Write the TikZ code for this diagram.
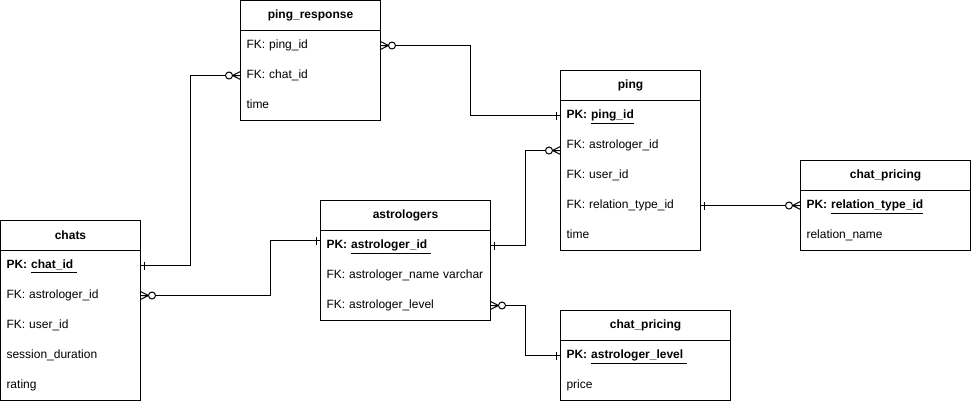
\documentclass[tikz,border=0pt]{standalone}
\usepackage{fontspec}
\setmainfont{Liberation Sans}
\usetikzlibrary{positioning}

\tikzset{
	tblhead/.style={draw, anchor=north west, minimum height=22.5pt, inner sep=0pt, outer sep=0pt,
		font=\fontsize{9}{11}\selectfont\bfseries},
	field/.style={text width=#1, minimum height=22.5pt, inner xsep=4.5pt, inner ysep=0pt, outer sep=0pt,
		align=left, text height=6.8pt, text depth=2pt},
	onemark/.pic={\draw (4,-4) -- (4,4);},
	zmanymark/.pic={
		\draw (0,-4) -- (8,0) -- (0,4) (0,0) -- (8,0);
		\draw[fill=white] (11.5,0) circle (3.5);
	}
}

\begin{document}
\begin{tikzpicture}[x=0.75pt, y=-0.75pt, line width=0.75pt, font=\fontsize{9}{11}\selectfont]
		\useasboundingbox (0,0) rectangle (971,401);
		% ping_response
		\node[tblhead, minimum width=105pt] (pr-head) at (240.5,0.5) {ping\_response};
		\node[field=96pt, below=0pt of pr-head] (pr-ping) {FK: ping\_id};
		\node[field=96pt, below=0pt of pr-ping] (pr-chat) {FK: chat\_id};
		\node[field=96pt, below=0pt of pr-chat] (pr-time) {time};
		\draw (pr-head.south west) rectangle (pr-time.south east);
		% ping
		\node[tblhead, minimum width=105pt] (ping-head) at (560.5,70.5) {ping};
		\node[field=96pt, below=0pt of ping-head] (ping-pk) {\textbf{PK: \underline{ping\_id}}};
		\node[field=96pt, below=0pt of ping-pk] (ping-astro) {FK: astrologer\_id};
		\node[field=96pt, below=0pt of ping-astro] (ping-user) {FK: user\_id};
		\node[field=96pt, below=0pt of ping-user] (ping-rel) {FK: relation\_type\_id};
		\node[field=96pt, below=0pt of ping-rel] (ping-time) {time};
		\draw (ping-head.south west) rectangle (ping-time.south east);
		% chat_pricing (relation)
		\node[tblhead, minimum width=127.5pt] (cp1-head) at (800.5,160.5) {chat\_pricing};
		\node[field=118.5pt, below=0pt of cp1-head] (cp1-pk) {\textbf{PK: \underline{relation\_type\_id}}};
		\node[field=118.5pt, below=0pt of cp1-pk] (cp1-name) {relation\_name};
		\draw (cp1-head.south west) rectangle (cp1-name.south east);
		% chats
		\node[tblhead, minimum width=105pt] (chats-head) at (0.5,220.5) {chats};
		\node[field=96pt, below=0pt of chats-head] (chats-pk) {\textbf{PK: \underline{chat\_id\ }}};
		\node[field=96pt, below=0pt of chats-pk] (chats-astro) {FK: astrologer\_id};
		\node[field=96pt, below=0pt of chats-astro] (chats-user) {FK: user\_id};
		\node[field=96pt, below=0pt of chats-user] (chats-dur) {session\_duration};
		\node[field=96pt, below=0pt of chats-dur] (chats-rate) {rating};
		\draw (chats-head.south west) rectangle (chats-rate.south east);
		% astrologers
		\node[tblhead, minimum width=127.5pt] (astro-head) at (320.5,200.5) {astrologers};
		\node[field=118.5pt, below=0pt of astro-head] (astro-pk) {\textbf{PK: \underline{astrologer\_id\ }}};
		\node[field=118.5pt, below=0pt of astro-pk] (astro-name) {FK: astrologer\_name varchar};
		\node[field=118.5pt, below=0pt of astro-name] (astro-level) {FK: astrologer\_level};
		\draw (astro-head.south west) rectangle (astro-level.south east);
		% chat_pricing (level)
		\node[tblhead, minimum width=127.5pt] (cp2-head) at (560.5,310.5) {chat\_pricing};
		\node[field=118.5pt, below=0pt of cp2-head] (cp2-pk) {\textbf{PK: \underline{astrologer\_level\ }}};
		\node[field=118.5pt, below=0pt of cp2-pk] (cp2-price) {price};
		\draw (cp2-head.south west) rectangle (cp2-price.south east);
		% links
		\draw (pr-ping.east) -- ++(90,0) |- (ping-pk.west);
		\draw (pr-chat.west) -- ++(-50,0) |- (chats-pk.east);
		\draw (chats-astro.east) -- ++(130,0) |- ([yshift=3.75pt]astro-pk.west);
		\draw (astro-pk.east) -- ++(35,0) |- ([yshift=-3.75pt]ping-astro.west);
		\draw (astro-level.east) -- ++(35,0) |- (cp2-pk.west);
		\draw (ping-rel.east) -- (cp1-pk.west);
		% ends
		\pic at (pr-ping.east) {zmanymark};
		\pic[rotate=180] at (ping-pk.west) {onemark};
		\pic[rotate=180] at (pr-chat.west) {zmanymark};
		\pic at (chats-pk.east) {onemark};
		\pic at (chats-astro.east) {zmanymark};
		\pic[rotate=180] at ([yshift=3.75pt]astro-pk.west) {onemark};
		\pic at (astro-pk.east) {onemark};
		\pic[rotate=180] at ([yshift=-3.75pt]ping-astro.west) {zmanymark};
		\pic at (astro-level.east) {zmanymark};
		\pic[rotate=180] at (cp2-pk.west) {onemark};
		\pic at (ping-rel.east) {onemark};
		\pic[rotate=180] at (cp1-pk.west) {zmanymark};
	\end{tikzpicture}
\end{document}
